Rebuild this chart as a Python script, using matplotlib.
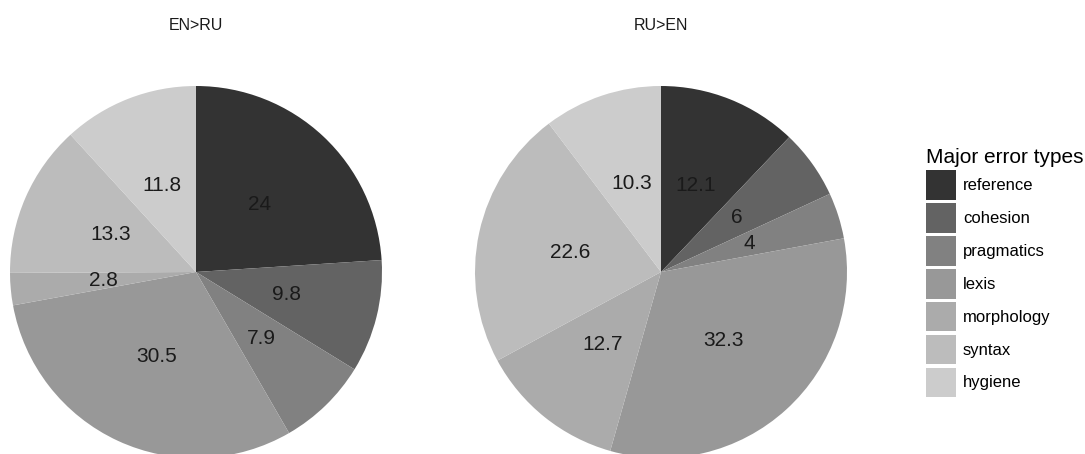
import matplotlib
matplotlib.use("Agg")
import matplotlib.pyplot as plt
from matplotlib.patches import Patch

plt.rcParams['font.family'] = ['Liberation Sans', 'DejaVu Sans']

categories = ["reference", "cohesion", "pragmatics", "lexis", "morphology", "syntax", "hygiene"]
en_ru = [24, 9.8, 7.9, 30.5, 2.8, 13.3, 11.8]
ru_en = [12.1, 6, 4, 32.3, 12.7, 22.6, 10.3]
panel_titles = ["EN>RU", "RU>EN"]
legend_title = "Major error types"
colors = ['#333333', '#636363', '#818181', '#989898', '#ababab', '#bcbcbc', '#cccccc']

W, H = 1085, 454
fig = plt.figure(figsize=(W / 100, H / 100), dpi=100)

R = 186  # pie radius in px
pad = 1.02
centers = [(196, 272), (661, 272)]
series = [en_ru, ru_en]

for (cx, cy), vals, title in zip(centers, series, panel_titles):
    half = R * pad
    ax = fig.add_axes([(cx - half) / W, (H - cy - half) / H, 2 * half / W, 2 * half / H])
    wedges, texts = ax.pie(vals, labels=[f"{v:g}" for v in vals], colors=colors,
                           startangle=90, counterclock=False, labeldistance=0.5,
                           textprops=dict(fontsize=15, color='#1a1a1a'))
    for t in texts:
        t.set_ha('center')
        t.set_va('center')
    ax.set_xlim(-pad, pad)
    ax.set_ylim(-pad, pad)
    ax.set_aspect('equal')
    ax.axis('off')
    fig.text(cx / W, 1 - 25 / H, title, ha='center', va='center', fontsize=11.5, color='#1a1a1a')

handles = [Patch(facecolor=c, edgecolor='none') for c in colors]
leg = fig.legend(handles, categories, title=legend_title, loc='upper left',
                 bbox_to_anchor=(926 / W, 1 - 148 / H), frameon=False,
                 fontsize=12, title_fontsize=15, handlelength=1.8, handleheight=2.35,
                 labelspacing=0.2, handletextpad=0.42, borderaxespad=0, borderpad=0,
                 alignment='left')

fig.savefig("out.png", dpi=100)
